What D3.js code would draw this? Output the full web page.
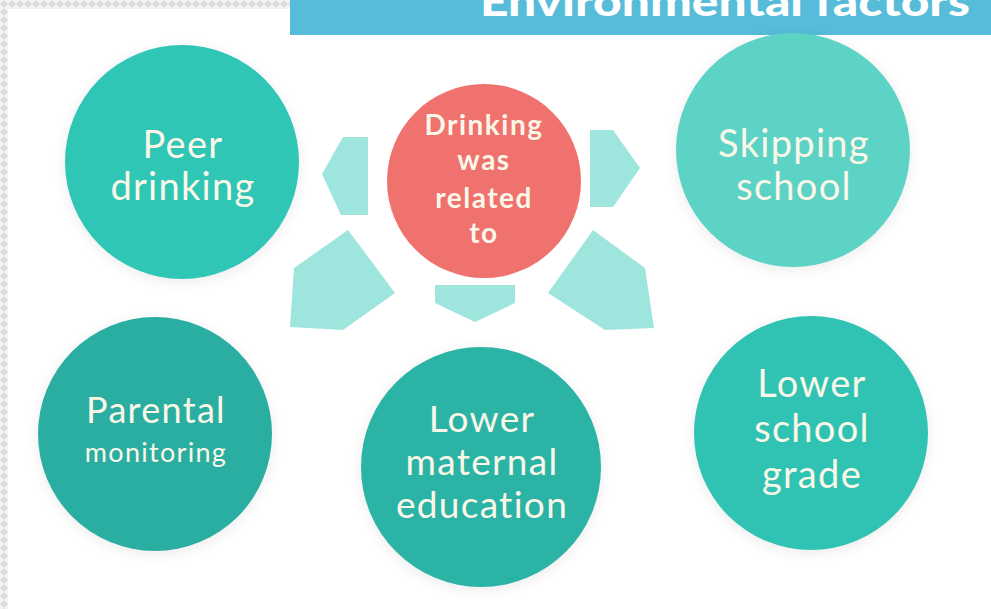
<!DOCTYPE html>
<html>
  <head>
    <style>
      body { margin: 0; background: #fff; }
      svg { display: block; }
    </style>
  </head>
  <body>
    <svg></svg>
    <script src="https://d3js.org/d3.v7.min.js"></script>
    <script type="text/javascript">

      // content of the diagram
      var title = "Environmental factors";
      var hubLabel = ["Drinking", "was", "related", "to"];
      var factorLabels = [
        ["Peer", "drinking"],
        ["Skipping", "school"],
        ["Parental", "monitoring"],
        ["Lower", "maternal", "education"],
        ["Lower", "school", "grade"]
      ];

      // layout (pixel positions of the circles and text lines)
      var factorLayout = [
        { cx: 182, cy: 162, r: 117, fill: "#2fc6b6", base: [158, 200], size: [38, 38] },
        { cx: 793, cy: 150, r: 117, fill: "#5dd3c6", base: [157, 200], size: [38, 38] },
        { cx: 155, cy: 434, r: 117, fill: "#2baea2", base: [423, 462], size: [36, 27] },
        { cx: 481, cy: 467, r: 120, fill: "#2bb3a6", base: [432, 475, 518], size: [37, 37, 37] },
        { cx: 811, cy: 433, r: 117, fill: "#30c3b3", base: [397, 442, 488], size: [38, 38, 38] }
      ];
      var hubLayout = { cx: 484, cy: 181, r: 97, fill: "#f0726e", base: [135, 170, 208, 243] };

      // arrow pentagons between the hub and the factors
      var arrowShapes = [
        [[322, 174], [343, 137], [368, 137], [368, 215], [341, 215]],
        [[590, 130], [613, 130], [640, 168], [613, 207], [590, 207]],
        [[348, 230], [395, 293], [343, 330], [290, 327], [294, 268]],
        [[435, 285], [515, 285], [515, 303], [475, 322], [435, 303]],
        [[593, 230], [645, 268], [654, 328], [605, 330], [548, 293]]
      ];

      var W = 991, H = 609;
      var svg = d3.select("svg").attr("width", W).attr("height", H);

      // checkered frame on the left/top edge
      var defs = svg.append("defs");
      var pat = defs.append("pattern")
        .attr("id", "chk").attr("width", 8).attr("height", 8)
        .attr("patternUnits", "userSpaceOnUse");
      pat.append("rect").attr("width", 8).attr("height", 8).attr("fill", "#f2f2f2");
      pat.append("path").attr("d", "M4,0 L8,4 L4,8 L0,4 Z").attr("fill", "#dcdcdc");

      var shadow = defs.append("filter").attr("id", "soft")
        .attr("x", "-20%").attr("y", "-20%").attr("width", "140%").attr("height", "140%");
      shadow.append("feGaussianBlur").attr("stdDeviation", 6);

      svg.append("rect").attr("x", 0).attr("y", 0).attr("width", 8).attr("height", H).attr("fill", "url(#chk)");
      svg.append("rect").attr("x", 0).attr("y", 0).attr("width", 290).attr("height", 9).attr("fill", "url(#chk)");

      // header band (title is clipped by the top edge, as in the original slide)
      svg.append("rect")
        .attr("x", 290).attr("y", 0).attr("width", W - 290).attr("height", 35)
        .attr("fill", "#56bcda");
      svg.append("text")
        .attr("x", 970).attr("y", 16)
        .attr("text-anchor", "end")
        .attr("font-family", "Lato, sans-serif")
        .attr("font-weight", 900)
        .attr("font-size", 40)
        .attr("textLength", 490)
        .attr("lengthAdjust", "spacingAndGlyphs")
        .attr("fill", "#fff")
        .text(title);

      // arrows
      var line = d3.line().curve(d3.curveLinearClosed);
      svg.selectAll("path.arrow")
        .data(arrowShapes)
        .join("path")
        .attr("class", "arrow")
        .attr("d", d => line(d))
        .attr("fill", "#9ee5dd");

      var textColor = "#fbf7e8";

      // factor circles
      var groups = svg.selectAll("g.factor")
        .data(factorLabels.map((lab, i) => ({ lab: lab, lay: factorLayout[i] })))
        .join("g")
        .attr("class", "factor");

      groups.append("circle")
        .attr("cx", d => d.lay.cx).attr("cy", d => d.lay.cy + 3).attr("r", d => d.lay.r + 2)
        .attr("fill", "#000").attr("opacity", 0.06).attr("filter", "url(#soft)");
      groups.append("circle")
        .attr("cx", d => d.lay.cx).attr("cy", d => d.lay.cy).attr("r", d => d.lay.r)
        .attr("fill", d => d.lay.fill);

      groups.each(function(d) {
        var g = d3.select(this);
        d.lab.forEach(function(word, j) {
          g.append("text")
            .attr("x", d.lay.cx + 1)
            .attr("y", d.lay.base[j])
            .attr("text-anchor", "middle")
            .attr("font-family", "Lato, sans-serif")
            .attr("font-size", d.lay.size[j])
            .attr("letter-spacing", 1.3)
            .attr("fill", textColor)
            .text(word);
        });
      });

      // hub circle
      svg.append("circle")
        .attr("cx", hubLayout.cx).attr("cy", hubLayout.cy).attr("r", hubLayout.r)
        .attr("fill", hubLayout.fill);
      svg.selectAll("text.hub")
        .data(hubLabel)
        .join("text")
        .attr("class", "hub")
        .attr("x", hubLayout.cx)
        .attr("y", (d, i) => hubLayout.base[i])
        .attr("text-anchor", "middle")
        .attr("font-family", "Lato, sans-serif")
        .attr("font-weight", 700)
        .attr("font-size", 28)
        .attr("letter-spacing", 1.5)
        .attr("fill", textColor)
        .text(d => d);

    </script>
  </body>
</html>
